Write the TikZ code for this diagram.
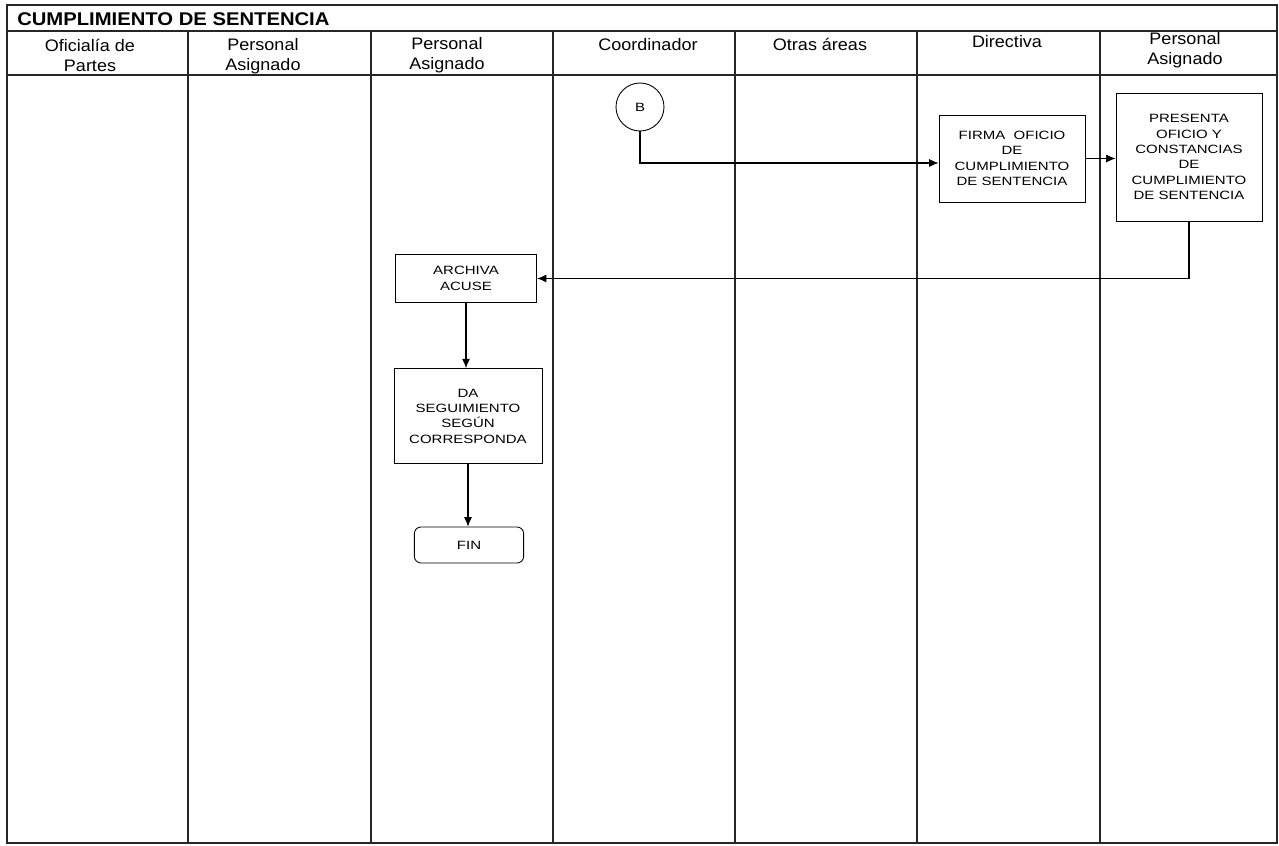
\documentclass[tikz,border=0pt]{standalone}
\usepackage{fontspec}
\setmainfont{Liberation Sans}
\newfontfamily\boxfont[FakeStretch=1.25]{Liberation Sans}
\newfontfamily\hdrfont[FakeStretch=1.08]{Liberation Sans}
\newfontfamily\ttlfont[FakeStretch=1.1]{Liberation Sans}
\usetikzlibrary{arrows.meta,calc}
\begin{document}
\begin{tikzpicture}[x=0.75pt,y=-0.75pt,
  grid/.style={line width=0.85pt,black!85},
  hdr/.style={anchor=north,align=center,inner sep=0pt,font=\hdrfont\fontsize{12.5}{15}\selectfont},
  proc/.style={draw,line width=0.65pt,fill=white,align=center,inner sep=2pt,
    font=\boxfont\fontsize{9}{11.5}\selectfont},
  conn/.style={draw,circle,line width=0.65pt,minimum size=36pt,inner sep=0pt,
    font=\boxfont\fontsize{9}{11}\selectfont},
  arr/.style={line width=0.8pt,-{Latex[length=7pt,width=6pt]}}]
\useasboundingbox (0,0) rectangle (1279,846);
% frame
\draw[grid] (7,5) rectangle (1277,843);
\draw[grid] (7,31) -- (1277,31);
\draw[grid] (7,75) -- (1277,75);
\foreach \x in {188,371,553,735,917,1100}
  \draw[grid] (\x,31) -- (\x,843);
\node[anchor=west,inner sep=0pt,font=\ttlfont\bfseries\fontsize{13.8}{14}\selectfont] (title) at (17,19) {CUMPLIMIENTO DE SENTENCIA};
% headers
\node[hdr] (h1) at (90,39) {Oficialía de\\Partes};
\node[hdr] (h2) at (263,38) {Personal\\Asignado};
\node[hdr] (h3) at (447,37) {Personal\\Asignado};
\node[hdr] (h4) at (648,38) {Coordinador};
\node[hdr] (h5) at (820,38) {Otras áreas};
\node[hdr] (h6) at (1007,35) {Directiva};
\node[hdr] (h7) at (1185,32) {Personal\\Asignado};
% nodes
\node[conn] (B) at (640,107) {B};
\node[proc,minimum width=109.5pt,minimum height=65.25pt] (firma) at (1012,158.5)
  {FIRMA\ \ OFICIO\\DE\\CUMPLIMIENTO\\DE SENTENCIA};
\node[proc,minimum width=109.5pt,minimum height=96pt] (presenta) at (1189,157)
  {PRESENTA\\OFICIO Y\\CONSTANCIAS\\DE\\CUMPLIMIENTO\\DE SENTENCIA};
\node[proc,minimum width=106pt,minimum height=36pt] (archiva) at (466,278.5)
  {ARCHIVA\\ACUSE};
\node[proc,minimum width=111pt,minimum height=71pt] (da) at (468,416)
  {DA\\SEGUIMIENTO\\SEGÚN\\CORRESPONDA};
\node[proc,rounded corners=5pt,minimum width=82pt,minimum height=27pt] (fin) at (469,545)
  {FIN};
% connectors
\draw[arr] (B.south) |- ($(firma.west)+(0,4.5)$);
\draw[arr] (firma.east) -- (firma.east -| presenta.west);
\draw[arr] (presenta.south) |- (archiva.east);
\draw[arr] (archiva.south) -- (archiva.south |- da.north);
\draw[arr] (da.south) -- (da.south |- fin.north);
\end{tikzpicture}
\end{document}
